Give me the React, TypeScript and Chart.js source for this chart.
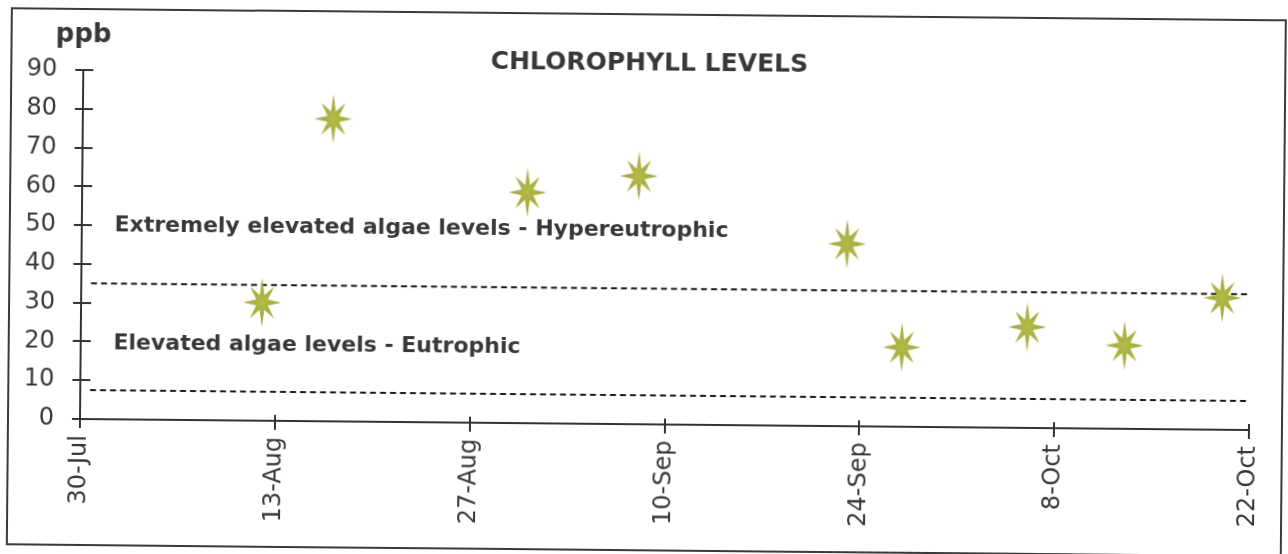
import { useEffect, useRef } from 'react';
import { Chart, registerables } from 'chart.js';

Chart.register(...registerables);

// ---- data ----
const sampleDates = ['12-Aug', '17-Aug', '31-Aug', '8-Sep', '23-Sep', '27-Sep', '6-Oct', '13-Oct', '20-Oct'];
const chlorophyll = [30.5, 78, 59.5, 64, 47, 20.5, 26, 21.5, 34];
const tickLabels = ['30-Jul', '13-Aug', '27-Aug', '10-Sep', '24-Sep', '8-Oct', '22-Oct'];
const yMin = 0;
const yMax = 90;
const yStep = 10;
const thresholds = [35, 7.5];
const lineStart = ['31-Jul', '31-Jul'];
const zoneLabels = ['Extremely elevated algae levels - Hypereutrophic', 'Elevated algae levels - Eutrophic'];
const zoneLabelValues = [48.5, 18];
const titleText = 'CHLOROPHYLL LEVELS';
const unitLabel = 'ppb';

const MONTHS: Record<string, number> = { Jul: 6, Aug: 7, Sep: 8, Oct: 9 };
function dayOffset(s: string): number {
  const [d, m] = s.split('-');
  return (Date.UTC(2000, MONTHS[m], Number(d)) - Date.UTC(2000, 6, 30)) / 86400000;
}

const tickValues = tickLabels.map(dayOffset);
const points = sampleDates.map((d, i) => ({ x: dayOffset(d), y: chlorophyll[i] }));

const TEXT = '#383838';
const AXIS = '#333333';

function makeStar(): HTMLCanvasElement {
  const c = document.createElement('canvas');
  c.width = 56;
  c.height = 60;
  const ctx = c.getContext('2d')!;
  ctx.translate(28, 30);
  ctx.scale(1, 1.3);
  const outer = [19, 17, 19, 17, 19, 17, 19, 17];
  ctx.beginPath();
  for (let i = 0; i < 16; i++) {
    const ang = -Math.PI / 2 + (i * Math.PI) / 8;
    const r = i % 2 === 0 ? outer[i / 2] : 6.2;
    const x = r * Math.cos(ang);
    const y = r * Math.sin(ang);
    if (i === 0) ctx.moveTo(x, y);
    else ctx.lineTo(x, y);
  }
  ctx.closePath();
  const g = ctx.createRadialGradient(0, 0, 1, 0, 0, 16);
  g.addColorStop(0, '#b3ba48');
  g.addColorStop(1, '#9ea636');
  ctx.fillStyle = g;
  ctx.fill();
  return c;
}

const textPlugin = {
  id: 'textPlugin',
  afterDraw(chart: any) {
    const ctx = chart.ctx as CanvasRenderingContext2D;
    const xs = chart.scales.x;
    const ys = chart.scales.y;
    ctx.save();
    // inner parts of tick marks (crossing the axes)
    ctx.strokeStyle = AXIS;
    ctx.lineWidth = 2;
    const ax = xs.left;
    const ay = ys.bottom;
    for (let v = yMin; v <= yMax; v += yStep) {
      const py = Math.round(ys.getPixelForValue(v));
      ctx.beginPath();
      ctx.moveTo(ax, py);
      ctx.lineTo(ax + 10, py);
      ctx.stroke();
    }
    tickValues.forEach((v) => {
      const px = Math.round(xs.getPixelForValue(v));
      ctx.beginPath();
      ctx.moveTo(px, ay);
      ctx.lineTo(px, ay - 6);
      ctx.stroke();
    });
    ctx.fillStyle = TEXT;
    ctx.textBaseline = 'alphabetic';
    ctx.font = 'bold 25px "DejaVu Sans"';
    ctx.textAlign = 'center';
    ctx.fillText(titleText, 646, 65);
    ctx.font = 'bold 26px "DejaVu Sans"';
    ctx.fillText(unitLabel, 80, 42);
    ctx.font = 'bold 22px "DejaVu Sans"';
    ctx.textAlign = 'left';
    zoneLabels.forEach((t, i) => {
      ctx.fillText(t, xs.getPixelForValue(2.35), ys.getPixelForValue(zoneLabelValues[i]));
    });
    ctx.restore();
  },
};

export default function App() {
  const ref = useRef<HTMLCanvasElement | null>(null);
  useEffect(() => {
    if (!ref.current) return;
    const star = makeStar();
    const lineSets = thresholds.map((t, i) => ({
      data: [
        { x: dayOffset(lineStart[i]) - 0.3, y: t },
        { x: tickValues[tickValues.length - 1], y: t },
      ],
      showLine: true,
      borderColor: '#1a1a1a',
      borderWidth: 2,
      borderDash: [6, 4],
      pointRadius: 0,
      order: 2,
    }));
    const chart = new Chart(ref.current, {
      type: 'scatter',
      data: {
        datasets: [
          {
            data: points,
            pointStyle: star as any,
            pointRadius: 12,
            order: 0,
          } as any,
          ...lineSets,
        ],
      },
      plugins: [textPlugin],
      options: {
        animation: false,
        responsive: false,
        events: [],
        layout: { padding: { left: 0, top: 70, right: 39, bottom: 0 } },
        plugins: { legend: { display: false }, tooltip: { enabled: false }, title: { display: false } },
        scales: {
          x: {
            type: 'linear',
            min: tickValues[0],
            max: tickValues[tickValues.length - 1],
            afterFit: (s: any) => {
              s.height = 135;
            },
            afterBuildTicks: (s: any) => {
              s.ticks = tickValues.map((v) => ({ value: v }));
            },
            grid: { display: true, drawOnChartArea: false, drawTicks: true, tickLength: 9, color: AXIS, lineWidth: 2 },
            border: { display: true, color: AXIS, width: 2 },
            ticks: {
              autoSkip: false,
              minRotation: 90,
              maxRotation: 90,
              padding: 7,
              color: TEXT,
              font: { family: '"DejaVu Sans"', size: 24 },
              callback: (v: any) => {
                const i = tickValues.indexOf(Number(v));
                return i >= 0 ? tickLabels[i] : '';
              },
            },
          },
          y: {
            type: 'linear',
            min: yMin,
            max: yMax,
            afterFit: (s: any) => {
              s.width = 80;
            },
            grid: { display: true, drawOnChartArea: false, drawTicks: true, tickLength: 8, color: AXIS, lineWidth: 2 },
            border: { display: true, color: AXIS, width: 2 },
            ticks: {
              stepSize: yStep,
              padding: 18,
              color: TEXT,
              font: { family: '"DejaVu Sans"', size: 24 },
            },
          },
        },
      },
    });
    return () => chart.destroy();
  }, []);

  return (
    <div style={{ position: 'fixed', left: 0, top: 0, width: 1288, height: 554, overflow: 'hidden', background: '#fff' }}>
      <div
        style={{
          position: 'absolute',
          left: 0,
          top: 0,
          width: 1288,
          height: 554,
          transform: 'rotate(0.54deg)',
          transformOrigin: '80px 419px',
        }}
      >
        <div
          style={{
            position: 'absolute',
            left: 7,
            top: 8,
            width: 1276,
            height: 538,
            border: '2px solid #3a3a3a',
            boxSizing: 'border-box',
          }}
        />
        <canvas ref={ref} width={1288} height={554} style={{ position: 'absolute', left: 0, top: 0 }} />
      </div>
    </div>
  );
}
